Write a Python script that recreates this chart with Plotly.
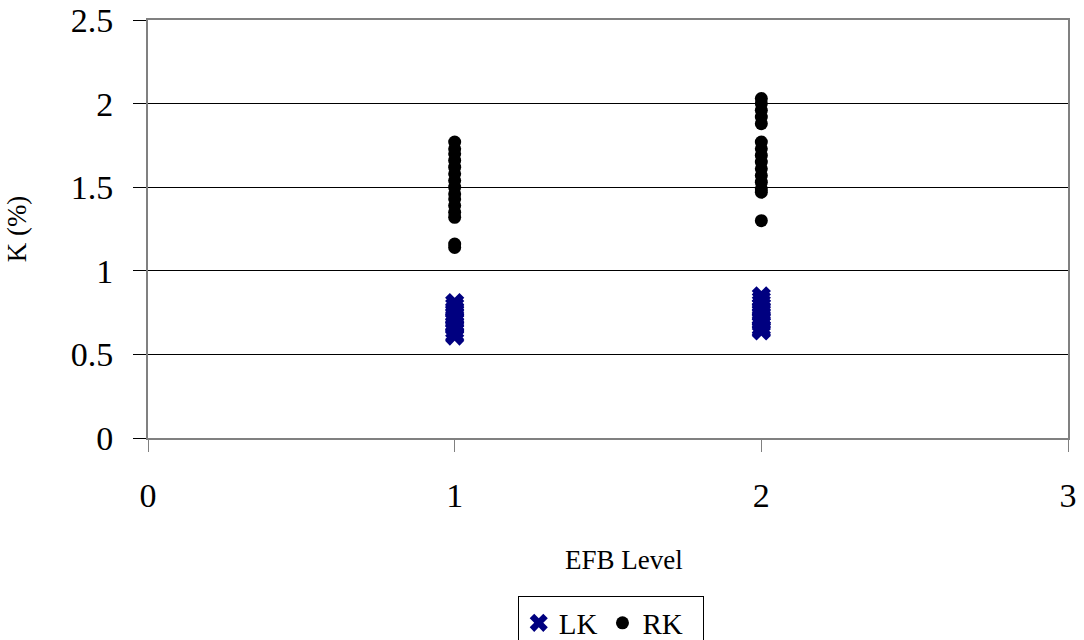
import plotly.graph_objects as go

# EFB level groups and K concentrations (%)
lk_level1 = [0.81, 0.79, 0.77, 0.76, 0.74, 0.72, 0.71, 0.70, 0.68, 0.67, 0.66, 0.64, 0.62, 0.61]
lk_level2 = [0.85, 0.83, 0.81, 0.79, 0.77, 0.76, 0.74, 0.72, 0.71, 0.69, 0.68, 0.66, 0.65, 0.64]
rk_level1 = [1.77, 1.73, 1.70, 1.66, 1.62, 1.58, 1.54, 1.50, 1.46, 1.43, 1.39, 1.35, 1.32, 1.16, 1.14]
rk_level2 = [2.03, 2.00, 1.96, 1.92, 1.88, 1.77, 1.73, 1.69, 1.65, 1.61, 1.57, 1.53, 1.49, 1.47, 1.30]

x_ticks = [0, 1, 2, 3]
y_ticks = [0, 0.5, 1, 1.5, 2, 2.5]
y_tick_text = ["0", "0.5", "1", "1.5", "2", "2.5"]

FONT = "Liberation Serif, Times New Roman, serif"

lk_x = [1] * len(lk_level1) + [2] * len(lk_level2)
lk_y = lk_level1 + lk_level2
rk_x = [1] * len(rk_level1) + [2] * len(rk_level2)
rk_y = rk_level1 + rk_level2

fig = go.Figure()
fig.add_trace(go.Scatter(
    x=lk_x, y=lk_y, mode="markers", name="LK",
    marker=dict(symbol="x", size=17, color="#000080", line=dict(width=0)),
))
fig.add_trace(go.Scatter(
    x=rk_x, y=rk_y, mode="markers", name="RK\u00a0\u00a0",
    marker=dict(symbol="circle", size=13, color="#000000", line=dict(width=0)),
))

fig.update_layout(
    width=1084, height=640,
    margin=dict(l=148, r=16, t=20, b=202, autoexpand=False),
    paper_bgcolor="white", plot_bgcolor="white",
    font=dict(family=FONT, color="black"),
    showlegend=True,
    legend=dict(
        orientation="h", xref="paper", x=0.503, xanchor="center",
        yref="container", y=0.068, yanchor="top",
        bordercolor="black", borderwidth=1, bgcolor="white",
        font=dict(size=29, family=FONT), itemwidth=30,
        tracegroupgap=0,
    ),
    annotations=[dict(
        text="EFB Level", xref="paper", yref="paper",
        x=0.517, y=-0.292, xanchor="center", yanchor="middle",
        showarrow=False, font=dict(size=27, family=FONT, color="black"),
    )],
)

fig.update_xaxes(
    range=[0, 3], tickvals=x_ticks, ticktext=[str(v) for v in x_ticks],
    showgrid=False, zeroline=False, automargin=False,
    showline=True, linecolor="#808080", linewidth=2, mirror=True,
    ticks="outside", ticklen=12, tickcolor="#808080", tickwidth=1,
    tickfont=dict(size=34, family=FONT), ticklabelstandoff=14,
)
fig.update_yaxes(
    range=[0, 2.5], tickvals=y_ticks, ticktext=y_tick_text,
    showgrid=True, gridcolor="#000000", gridwidth=1, zeroline=False, automargin=False,
    showline=True, linecolor="#808080", linewidth=2, mirror=True,
    ticks="outside", ticklen=13, tickcolor="#000000", tickwidth=1,
    tickfont=dict(size=34, family=FONT), ticklabelstandoff=13,
    title=dict(text="K (%)", font=dict(size=27, family=FONT), standoff=36),
)

fig.write_html("out.html")
